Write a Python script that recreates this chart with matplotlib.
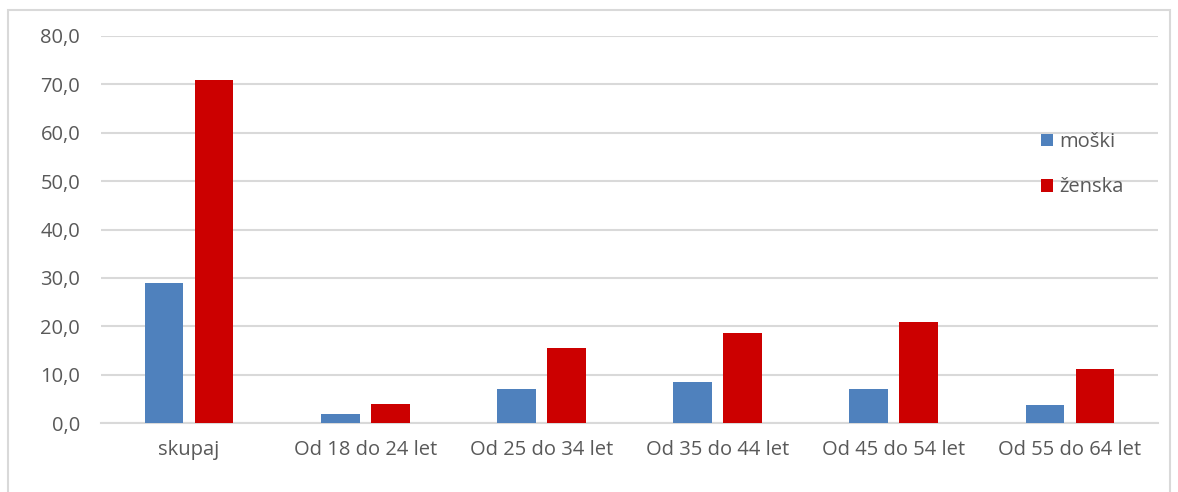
import matplotlib.pyplot as plt
import numpy as np
from matplotlib.patches import Rectangle

categories = ["skupaj", "Od 18 do 24 let", "Od 25 do 34 let", "Od 35 do 44 let",
              "Od 45 do 54 let", "Od 55 do 64 let"]
moski = [28.9, 1.9, 7.1, 8.4, 7.1, 3.7]
zenska = [70.9, 3.9, 15.6, 18.7, 20.8, 11.1]
yticks = [0, 10, 20, 30, 40, 50, 60, 70, 80]

plt.rcParams['font.family'] = ['Open Sans', 'DejaVu Sans']
text_col = "#595959"

fig = plt.figure(figsize=(11.78, 4.92), dpi=100)
ax = fig.add_axes([101 / 1178, 1 - 423 / 492, 1057 / 1178, 387 / 492])

# chart border (bottom edge falls outside the image)
fig.patches.append(Rectangle((8 / 1178, -0.1), 1162 / 1178, 1.1 - 10 / 492,
                             transform=fig.transFigure, fill=False,
                             edgecolor="#d9d9d9", linewidth=1.5))

x = np.arange(len(categories))
w = 0.22
ax.bar(x - 0.142, moski, w, color="#4f81bd", label="moški", zorder=3)
ax.bar(x + 0.142, zenska, w, color="#cc0000", label="ženska", zorder=3)

ax.set_xlim(-0.5, len(categories) - 0.5)
ax.set_ylim(0, 80)
ax.set_yticks(yticks)
ax.set_yticklabels([f"{v:.1f}".replace(".", ",") for v in yticks])
ax.set_xticks(x)
ax.set_xticklabels(categories)
ax.grid(axis="y", color="#d9d9d9", linewidth=1.5, zorder=0)
ax.tick_params(length=0, labelsize=14.5, colors=text_col)
ax.tick_params(axis="y", pad=15)
ax.tick_params(axis="x", pad=12)
for s in ["top", "right", "left"]:
    ax.spines[s].set_visible(False)
ax.spines["bottom"].set_color("#d9d9d9")
ax.spines["bottom"].set_linewidth(1.5)

leg = ax.legend(loc="upper left", bbox_to_anchor=(1023 / 1178, 1 - 114 / 492),
                bbox_transform=fig.transFigure, frameon=False, fontsize=14.5,
                handlelength=0.6, handleheight=0.6, handletextpad=0.3,
                labelspacing=1.25)
for t in leg.get_texts():
    t.set_color(text_col)

fig.savefig("out.png", dpi=100)
